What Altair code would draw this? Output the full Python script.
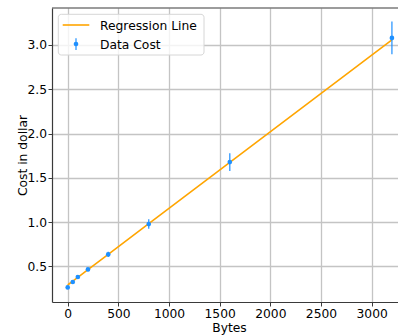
import altair as alt
import pandas as pd

# ---- data ----
bytes_x = [0, 50, 100, 200, 400, 800, 1600, 3200]
cost = [0.263, 0.324, 0.380, 0.466, 0.635, 0.978, 1.678, 3.079]
cost_err = [0.010, 0.012, 0.015, 0.020, 0.030, 0.053, 0.100, 0.185]
regression = [0.290, 0.333, 0.377, 0.463, 0.636, 0.982, 1.674, 3.058]
x_ticks = [0, 500, 1000, 1500, 2000, 2500, 3000]
y_ticks = [0.5, 1.0, 1.5, 2.0, 2.5, 3.0]
legend_labels = ["Regression Line", "Data Cost"]

FONT = "DejaVu Sans"
FS = 12.3
BLUE = "#1e90ff"
ORANGE = "#ffa500"
SPINE = "#3a3a3a"

df = pd.DataFrame({
    "Bytes": bytes_x,
    "Cost": cost,
    "lo": [c - e for c, e in zip(cost, cost_err)],
    "hi": [c + e for c, e in zip(cost, cost_err)],
    "Reg": regression,
})

# plot area is cut off at the right edge of the picture (as in the reference)
W, H = 346, 294

x_scale = alt.Scale(domain=[-155, 3260], nice=False, zero=False)
y_scale = alt.Scale(domain=[0.098, 3.417], nice=False, zero=False)

x_axis = alt.Axis(
    values=x_ticks, format="d", title="Bytes", grid=True, gridColor="#c4c4c4",
    gridWidth=1.3, domain=True, domainColor=SPINE, domainWidth=1.2,
    tickColor=SPINE, tickSize=4, tickWidth=1,
    labelPadding=1.5, labelFont=FONT, labelFontSize=FS, labelColor="black",
    titleFont=FONT, titleFontSize=FS, titleFontWeight="normal", titleColor="black",
    titleX=177, titleY=29, titleBaseline="alphabetic", titleAlign="center",
)
y_axis = alt.Axis(
    values=y_ticks, format=".1f", title="Cost in dollar", grid=True, gridColor="#c4c4c4",
    gridWidth=1.3, domain=True, domainColor=SPINE, domainWidth=1.2,
    tickColor=SPINE, tickSize=4, tickWidth=1,
    labelPadding=1.5, labelFont=FONT, labelFontSize=FS, labelColor="black",
    titleFont=FONT, titleFontSize=FS, titleFontWeight="normal", titleColor="black",
    titleX=-26, titleY=147, titleAngle=270, titleBaseline="alphabetic", titleAlign="center",
)

base = alt.Chart(df)

line = base.mark_line(color=ORANGE, strokeWidth=1.6).encode(
    x=alt.X("Bytes:Q", scale=x_scale, axis=x_axis),
    y=alt.Y("Reg:Q", scale=y_scale, axis=y_axis),
)
err = base.mark_rule(color=BLUE, strokeWidth=1.2).encode(
    x="Bytes:Q", y="lo:Q", y2="hi:Q"
)
pts = base.mark_circle(color=BLUE, size=22, opacity=1).encode(
    x="Bytes:Q", y="Cost:Q"
)

# ---- top spine ----
leg_df = pd.DataFrame({"label": legend_labels})
top_spine = alt.Chart(leg_df.head(1)).mark_rule(color=SPINE, strokeWidth=1.2).encode(
    x=alt.value(0), x2=alt.value(W), y=alt.value(0)
)

# ---- legend (matplotlib style box) ----
leg_box = alt.Chart(leg_df.head(1)).mark_rect(
    fill="white", fillOpacity=0.8, stroke="#d6d6d6", strokeWidth=1, cornerRadius=3
).encode(x=alt.value(6.3), x2=alt.value(152), y=alt.value(6.3), y2=alt.value(47))
leg_line = alt.Chart(leg_df.head(1)).mark_rule(color=ORANGE, strokeWidth=1.6).encode(
    x=alt.value(10.7), x2=alt.value(37.3), y=alt.value(17)
)
leg_err = alt.Chart(leg_df.head(1)).mark_rule(color=BLUE, strokeWidth=1.2).encode(
    x=alt.value(24), y=alt.value(30.3), y2=alt.value(42)
)
leg_pt = alt.Chart(leg_df.head(1)).mark_circle(color=BLUE, size=22, opacity=1).encode(
    x=alt.value(24), y=alt.value(36)
)
leg_text1 = alt.Chart(leg_df.iloc[[0]]).mark_text(
    align="left", baseline="middle", font=FONT, fontSize=FS, color="black"
).encode(x=alt.value(48), y=alt.value(17.5), text="label:N")
leg_text2 = alt.Chart(leg_df.iloc[[1]]).mark_text(
    align="left", baseline="middle", font=FONT, fontSize=FS, color="black"
).encode(x=alt.value(48), y=alt.value(36.5), text="label:N")

chart = alt.layer(
    line, err, pts, top_spine, leg_box, leg_line, leg_err, leg_pt, leg_text1, leg_text2
).properties(
    width=W, height=H,
    autosize=alt.AutoSizeParams(type="none"),
    padding={"left": 52, "top": 8, "right": 0, "bottom": 33},
    background="white",
).configure_view(stroke=None)

chart.save("out.html", embed_options={"renderer": "svg", "actions": False})
